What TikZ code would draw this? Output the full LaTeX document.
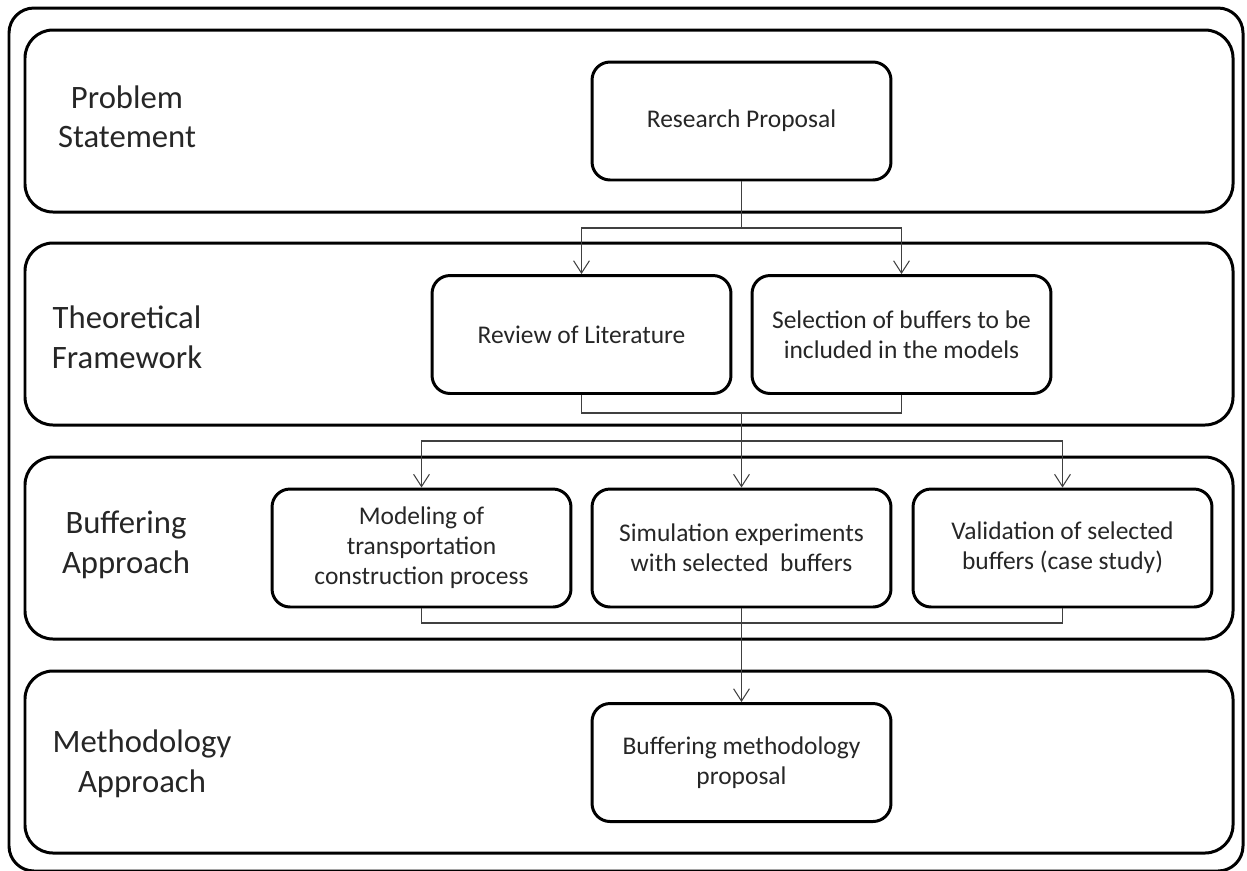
\documentclass[tikz,border=0pt]{standalone}
\usepackage{fontspec}
\setmainfont{Carlito}
\usetikzlibrary{arrows.meta}
\begin{document}
\begin{tikzpicture}[x=0.02cm, y=-0.02cm]
    \tikzstyle{frame} = [line width=1.7pt, rounded corners=0.56cm]
    \tikzstyle{stage} = [font=\fontsize{18.6}{22.5}\selectfont, align=center, text=black!85]
    \tikzstyle{task} = [draw, line width=1.7pt, rounded corners=0.36cm, minimum width=5.98cm, minimum height=2.36cm, align=center, font=\fontsize{14.5}{17}\selectfont, text=black!85]
    \tikzstyle{link} = [line width=0.6pt, draw=black!75]
    \tikzstyle{flow} = [link, -{Straight Barb[length=7pt, width=9pt, line width=0.6pt]}]
    \useasboundingbox (0,0) rectangle (1247,870);
    % outer frame and the four bands
    \draw[line width=1.7pt, rounded corners=0.5cm] (9,8) rectangle (1243,871);
    \draw[frame] (25,30) rectangle (1233,212);
    \draw[frame] (25,243) rectangle (1233,425);
    \draw[frame] (25,457) rectangle (1233,639);
    \draw[frame] (25,671) rectangle (1233,853);
    % band titles
    \node[stage] (ps) at (127,117) {Problem\\Statement};
    \node[stage] (tf) at (127,337) {Theoretical\\Framework};
    \node[stage] (ba) at (126,545) {Buffering\\Approach};
    \node[stage] (ma) at (142,764) {Methodology\\Approach};
    % tasks
    \node[task] (rp) at (741.5,121) {Research Proposal};
    \node[task] (lit) at (581.5,334.5) {Review of Literature};
    \node[task] (sel) at (901.5,334.5) {Selection of buffers to be\\included in the models};
    \node[task] (mod) at (421.5,548) {Modeling of\\transportation\\construction process};
    \node[task] (sim) at (741.5,548) {Simulation experiments\\with selected\ \ buffers};
    \node[task] (val) at (1062.5,548) {Validation of selected\\buffers (case study)};
    \node[task] (bmp) at (741.5,762.5) {Buffering methodology\\proposal};
    % connectors
    \coordinate (s1) at (741.5,228);
    \coordinate (j1) at (741.5,413);
    \coordinate (s2) at (741.5,441);
    \coordinate (j2) at (741.5,623);
    \draw[link] (rp.south) -- (s1);
    \draw[flow] (s1) -| (lit.north);
    \draw[flow] (s1) -| (sel.north);
    \draw[link] (lit.south) |- (j1) -| (sel.south);
    \draw[link] (j1) -- (s2);
    \draw[flow] (s2) -| (mod.north);
    \draw[flow] (s2) -- (sim.north);
    \draw[flow] (s2) -| (val.north);
    \draw[link] (mod.south) |- (j2) -| (val.south);
    \draw[flow] (sim.south) -- (bmp.north);
\end{tikzpicture}
\end{document}
